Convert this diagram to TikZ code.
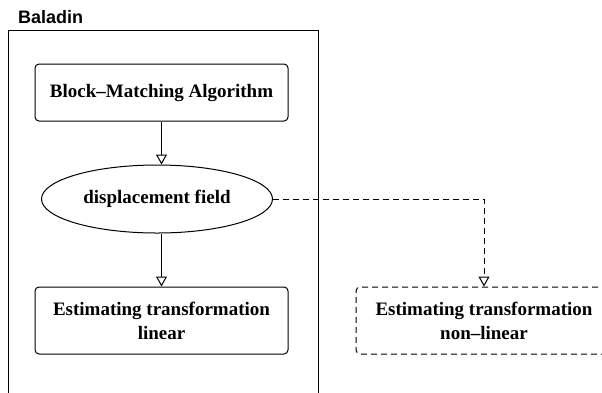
\documentclass[tikz,border=0pt]{standalone}
\usepackage{fontspec}
\setmainfont{Liberation Serif}
\setsansfont{Liberation Sans}
\usepackage{tikz}
\usetikzlibrary{arrows.meta,shapes.geometric,positioning}

\begin{document}
\begin{tikzpicture}[
x=1pt,y=-1pt,
font=\bfseries\fontsize{19}{24}\selectfont,
block/.style={draw,line width=1pt,rounded corners=4pt,align=center,inner sep=0pt,
  minimum width=253pt},
oneway/.style={-{Triangle[open,length=10pt,width=11pt]},line width=1pt},
maybe/.style={dash pattern=on 6pt off 4pt}]
    \useasboundingbox (0,0) rectangle (602,392);
    \clip (0,0) rectangle (602,392);

    % Draw container
    \node (baladin) [draw,line width=1pt,anchor=north west,minimum width=310pt,
        minimum height=380pt,inner sep=0pt] at (8,30) {};
    \node (title) [anchor=base west,inner sep=0pt,
        font=\sffamily\bfseries\fontsize{18}{21}\selectfont] at (18,23) {Baladin};

    \node (bma) [block,minimum height=57pt] at (161.5,92.5) {Block–Matching Algorithm};
    \node (disp) [draw,line width=1pt,ellipse,inner sep=0pt,minimum width=231pt,
        minimum height=68pt] at (157,199) {displacement field};
    \node (lin) [block,minimum height=67pt] at (161.5,320.5)
        {Estimating transformation\\linear};
    \node (nonlin) [block,maybe,minimum width=256pt,minimum height=67pt] at (484,320.5)
        {Estimating transformation\\non–linear};

    \draw[oneway] (bma.south) -- (bma.south |- disp.north);
    \draw[oneway] (lin.north |- disp.south) -- (lin.north);
    \draw[oneway,maybe] (disp.east) -| (nonlin.north);

\end{tikzpicture}
\end{document}
